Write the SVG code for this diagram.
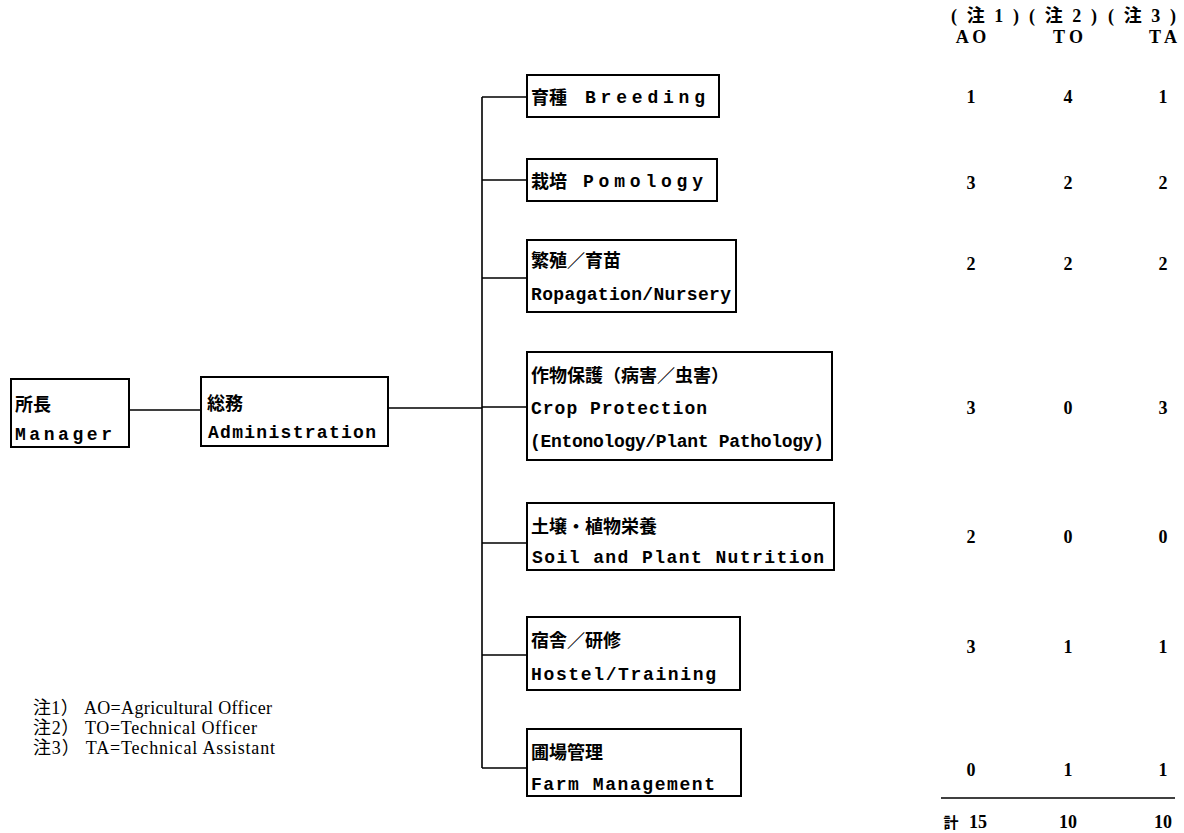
<svg xmlns="http://www.w3.org/2000/svg" width="1184" height="833" viewBox="0 0 1184 833">
<style>
.box{fill:#fff;stroke:#000;stroke-width:2}
.ln{fill:none;stroke:#000;stroke-width:1.6}
.t{font-family:"Liberation Mono","Noto Sans CJK JP",monospace;font-size:18px;font-weight:bold;fill:#000}
.j{font-family:"Noto Sans CJK JP",sans-serif;font-size:18px;font-weight:bold;fill:#000}
.n{font-family:"Liberation Serif","Noto Sans CJK JP",serif;font-size:18px;font-weight:bold;fill:#000;text-anchor:middle}
.lg{font-family:"Liberation Serif","Noto Sans CJK JP",serif;font-size:18px;fill:#000}
</style>
<rect width="1184" height="833" fill="#fff"/>
<g id="connectors">
<path class="ln" d="M129 410H201M388 408H482M482 97V768M482 97H527M482 180H527M482 278H527M482 407H527M482 543H527M482 655H527M482 768H527"/>
</g>
<g id="manager">
<rect class="box" x="11" y="379" width="118" height="68"/>
<text class="j" x="15" y="411">所長</text>
<text class="t" x="15" y="440" textLength="97" lengthAdjust="spacing">Manager</text>
</g>
<g id="administration">
<rect class="box" x="201" y="377" width="187" height="69"/>
<text class="j" x="207" y="410">総務</text>
<text class="t" x="208" y="438" textLength="168" lengthAdjust="spacing">Administration</text>
</g>
<g id="breeding">
<rect class="box" x="527" y="75" width="192" height="42"/>
<text class="j" x="531" y="104">育種</text>
<text class="t" x="585" y="103" textLength="120" lengthAdjust="spacing">Breeding</text>
</g>
<g id="pomology">
<rect class="box" x="527" y="159" width="190" height="42"/>
<text class="j" x="531" y="188">栽培</text>
<text class="t" x="583" y="187" textLength="120" lengthAdjust="spacing">Pomology</text>
</g>
<g id="nursery">
<rect class="box" x="527" y="240" width="209" height="72"/>
<text class="j" x="531" y="267">繁殖／育苗</text>
<text class="t" x="531" y="300" textLength="200" lengthAdjust="spacing">Ropagation/Nursery</text>
</g>
<g id="crop">
<rect class="box" x="527" y="352" width="305" height="108"/>
<text class="j" x="531" y="382">作物保護（病害／虫害）</text>
<text class="t" x="531" y="414" textLength="176" lengthAdjust="spacing">Crop Protection</text>
<text class="t" x="530" y="447" textLength="294" lengthAdjust="spacing">(Entonology/Plant Pathology)</text>
</g>
<g id="soil">
<rect class="box" x="527" y="503" width="307" height="67"/>
<text class="j" x="531" y="533">土壌・植物栄養</text>
<text class="t" x="532" y="563" textLength="292" lengthAdjust="spacing">Soil and Plant Nutrition</text>
</g>
<g id="hostel">
<rect class="box" x="527" y="617" width="213" height="73"/>
<text class="j" x="531" y="647">宿舎／研修</text>
<text class="t" x="531" y="680" textLength="185" lengthAdjust="spacing">Hostel/Training</text>
</g>
<g id="farm">
<rect class="box" x="527" y="729" width="214" height="67"/>
<text class="j" x="531" y="759">圃場管理</text>
<text class="t" x="531" y="790" textLength="184" lengthAdjust="spacing">Farm Management</text>
</g>
<g id="table">
<text class="n" x="985" y="22" textLength="68" lengthAdjust="spacing">(注1)</text>
<text class="n" x="1063" y="22" textLength="68" lengthAdjust="spacing">(注2)</text>
<text class="n" x="1142" y="22" textLength="68" lengthAdjust="spacing">(注3)</text>
<text class="n" x="971" y="43">A O</text>
<text class="n" x="1068" y="43">T O</text>
<text class="n" x="1163" y="43">T A</text>
<text class="n" x="971" y="103">1</text><text class="n" x="1068" y="103">4</text><text class="n" x="1163" y="103">1</text>
<text class="n" x="971" y="189">3</text><text class="n" x="1068" y="189">2</text><text class="n" x="1163" y="189">2</text>
<text class="n" x="971" y="270">2</text><text class="n" x="1068" y="270">2</text><text class="n" x="1163" y="270">2</text>
<text class="n" x="971" y="414">3</text><text class="n" x="1068" y="414">0</text><text class="n" x="1163" y="414">3</text>
<text class="n" x="971" y="543">2</text><text class="n" x="1068" y="543">0</text><text class="n" x="1163" y="543">0</text>
<text class="n" x="971" y="653">3</text><text class="n" x="1068" y="653">1</text><text class="n" x="1163" y="653">1</text>
<text class="n" x="971" y="776">0</text><text class="n" x="1068" y="776">1</text><text class="n" x="1163" y="776">1</text>
<path class="ln" d="M941 798H1175" stroke-width="1.2"/>
<text class="n" x="951" y="828" style="font-size:15px">計</text>
<text class="n" x="978" y="828">15</text>
<text class="n" x="1068" y="828">10</text>
<text class="n" x="1163" y="828">10</text>
</g>
<g id="legend">
<text class="lg" x="33" y="714" textLength="239" lengthAdjust="spacing">注1） AO=Agricultural Officer</text>
<text class="lg" x="33" y="734" textLength="224" lengthAdjust="spacing">注2） TO=Technical Officer</text>
<text class="lg" x="33" y="754" textLength="242" lengthAdjust="spacing">注3） TA=Technical Assistant</text>
</g>
</svg>
